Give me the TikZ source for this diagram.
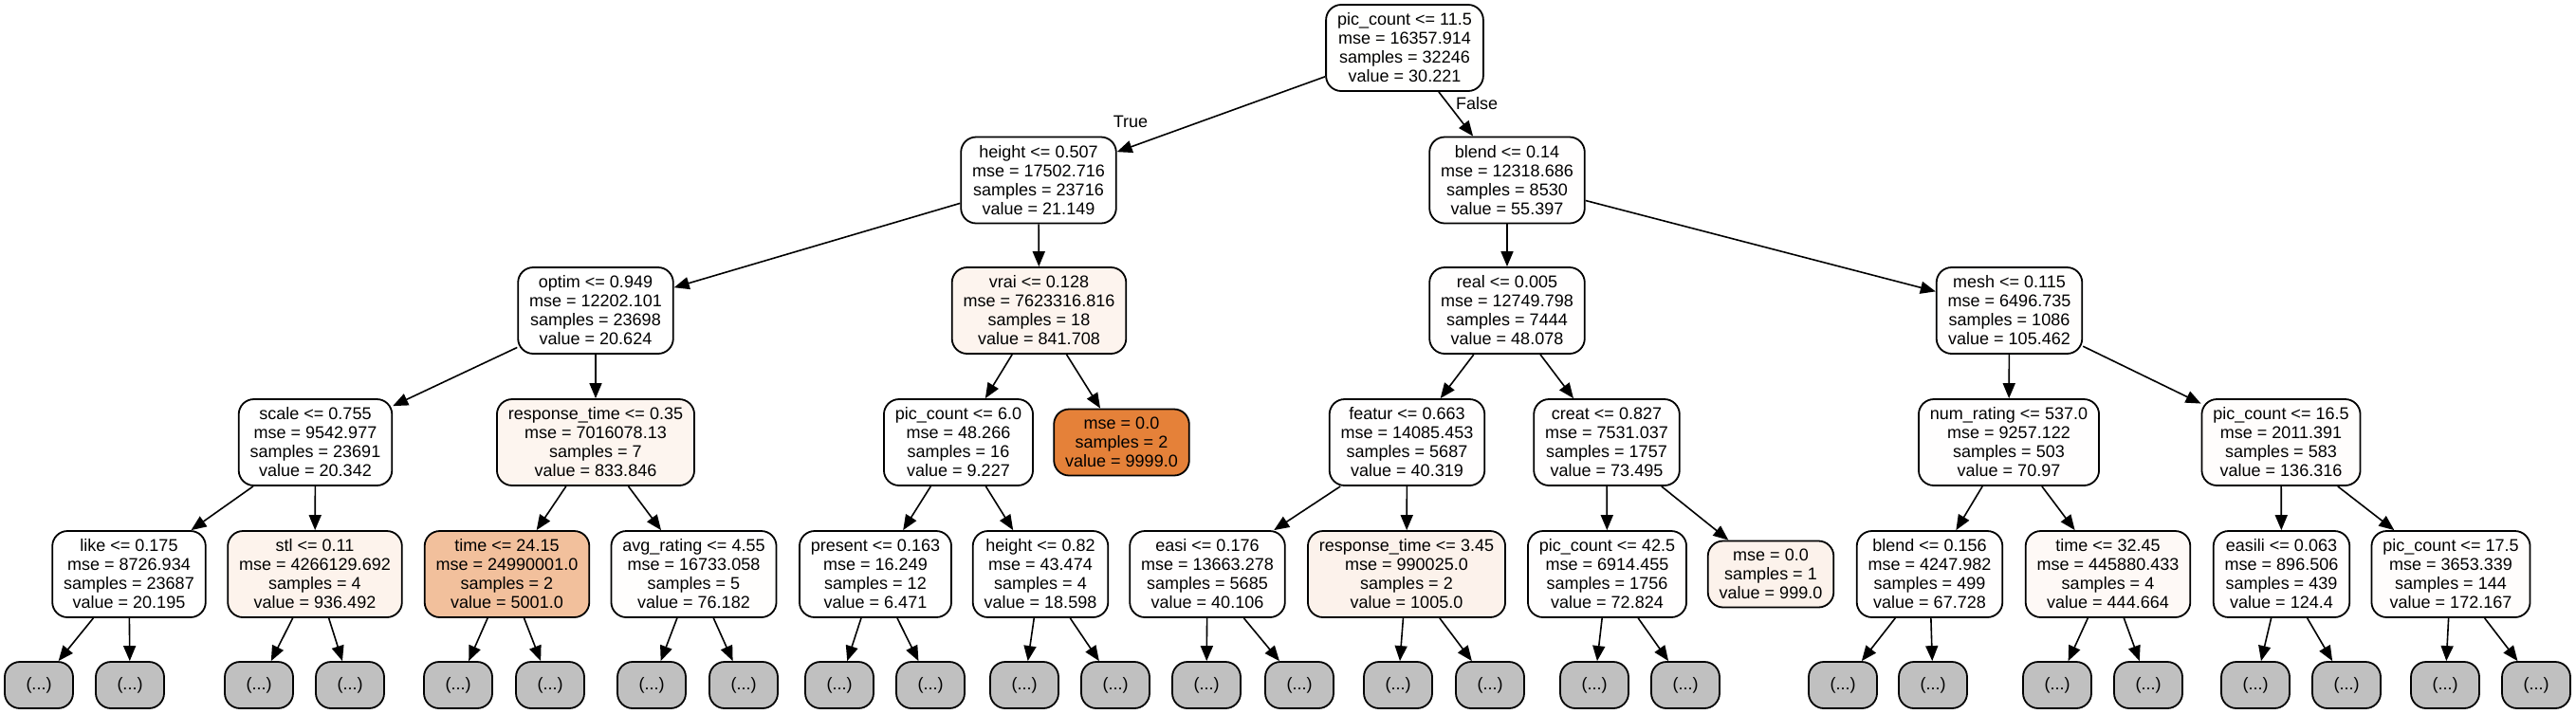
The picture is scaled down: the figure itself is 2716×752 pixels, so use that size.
\documentclass[tikz,border=0pt]{standalone}
\usepackage{fontspec}
\setmainfont{Liberation Sans}
\usetikzlibrary{arrows.meta}
\definecolor{dto}{RGB}{229,129,57}
\definecolor{dotgray}{RGB}{192,192,192}
\tikzset{
  tn/.style={draw=black, rounded corners=8pt, line width=0.9pt, align=center,
    font=\fontsize{9}{10}\selectfont, inner xsep=6pt, inner ysep=2pt, minimum height=45.5pt},
  leafthree/.style={tn, minimum height=35pt},
  dotbox/.style={tn, fill=dotgray, minimum width=36pt, minimum height=24.5pt},
  edgearrow/.style={-{Triangle[length=8pt,width=6.5pt]}, line width=0.8pt},
  elabel/.style={font=\fontsize{9}{10}\selectfont, inner sep=0pt}
}
\begin{document}
\begin{tikzpicture}[x=0.5pt,y=-0.5pt]
\useasboundingbox (0,0) rectangle (2716,752);
% level 0
\node[tn, fill=dto!0.3] (n0) at (1481,50.5) {pic\_count <= 11.5\\mse = 16357.914\\samples = 32246\\value = 30.221};
% level 1
\node[tn, fill=dto!0.2] (n1) at (1095,190) {height <= 0.507\\mse = 17502.716\\samples = 23716\\value = 21.149};
\node[tn, fill=dto!0.55] (n2) at (1589,190) {blend <= 0.14\\mse = 12318.686\\samples = 8530\\value = 55.397};
% level 2
\node[tn, fill=dto!0.2] (n3) at (628,327.5) {optim <= 0.949\\mse = 12202.101\\samples = 23698\\value = 20.624};
\node[tn, fill=dto!8.4] (n4) at (1095.5,327.5) {vrai <= 0.128\\mse = 7623316.816\\samples = 18\\value = 841.708};
\node[tn, fill=dto!0.48] (n5) at (1589,327.5) {real <= 0.005\\mse = 12749.798\\samples = 7444\\value = 48.078};
\node[tn, fill=dto!1.05] (n6) at (2118.5,327.5) {mesh <= 0.115\\mse = 6496.735\\samples = 1086\\value = 105.462};
% level 3
\node[tn, fill=dto!0.2] (n7) at (332.5,466.5) {scale <= 0.755\\mse = 9542.977\\samples = 23691\\value = 20.342};
\node[tn, fill=dto!8.3] (n8) at (628,466.5) {response\_time <= 0.35\\mse = 7016078.13\\samples = 7\\value = 833.846};
\node[tn, fill=dto!0.09] (n9) at (1010.5,466.5) {pic\_count <= 6.0\\mse = 48.266\\samples = 16\\value = 9.227};
\node[leafthree, fill=dto] (n10) at (1182.5,466.5) {mse = 0.0\\samples = 2\\value = 9999.0};
\node[tn, fill=dto!0.4] (n11) at (1483.5,466.5) {featur <= 0.663\\mse = 14085.453\\samples = 5687\\value = 40.319};
\node[tn, fill=dto!0.73] (n12) at (1694,466.5) {creat <= 0.827\\mse = 7531.037\\samples = 1757\\value = 73.495};
\node[tn, fill=dto!0.71] (n13) at (2118,466.5) {num\_rating <= 537.0\\mse = 9257.122\\samples = 503\\value = 70.97};
\node[tn, fill=dto!1.36] (n14) at (2405,466.5) {pic\_count <= 16.5\\mse = 2011.391\\samples = 583\\value = 136.316};
% level 4
\node[tn, fill=dto!0.2] (n15) at (136,605.5) {like <= 0.175\\mse = 8726.934\\samples = 23687\\value = 20.195};
\node[tn, fill=dto!9.4] (n16) at (332,605.5) {stl <= 0.11\\mse = 4266129.692\\samples = 4\\value = 936.492};
\node[tn, fill=dto!50] (n17) at (534.5,605.5) {time <= 24.15\\mse = 24990001.0\\samples = 2\\value = 5001.0};
\node[tn, fill=dto!0.76] (n18) at (731.5,605.5) {avg\_rating <= 4.55\\mse = 16733.058\\samples = 5\\value = 76.182};
\node[tn, fill=white] (n19) at (923,605.5) {present <= 0.163\\mse = 16.249\\samples = 12\\value = 6.471};
\node[tn, fill=dto!0.19] (n20) at (1097,605.5) {height <= 0.82\\mse = 43.474\\samples = 4\\value = 18.598};
\node[tn, fill=dto!0.4] (n21) at (1273,605.5) {easi <= 0.176\\mse = 13663.278\\samples = 5685\\value = 40.106};
\node[tn, fill=dto!10] (n22) at (1483,605.5) {response\_time <= 3.45\\mse = 990025.0\\samples = 2\\value = 1005.0};
\node[tn, fill=dto!0.73] (n23) at (1694.5,605.5) {pic\_count <= 42.5\\mse = 6914.455\\samples = 1756\\value = 72.824};
\node[leafthree, fill=dto!10] (n24) at (1867,605.5) {mse = 0.0\\samples = 1\\value = 999.0};
\node[tn, fill=dto!0.68] (n25) at (2034.5,605.5) {blend <= 0.156\\mse = 4247.982\\samples = 499\\value = 67.728};
\node[tn, fill=dto!4.4] (n26) at (2222.5,605.5) {time <= 32.45\\mse = 445880.433\\samples = 4\\value = 444.664};
\node[tn, fill=dto!1.24] (n27) at (2405.5,605.5) {easili <= 0.063\\mse = 896.506\\samples = 439\\value = 124.4};
\node[tn, fill=dto!1.72] (n28) at (2584,605.5) {pic\_count <= 17.5\\mse = 3653.339\\samples = 144\\value = 172.167};
% level 5
\node[dotbox] (d1) at (41,722.5) {(...)};
\node[dotbox] (d2) at (137,722.5) {(...)};
\node[dotbox] (d3) at (273,722.5) {(...)};
\node[dotbox] (d4) at (369,722.5) {(...)};
\node[dotbox] (d5) at (483,722.5) {(...)};
\node[dotbox] (d6) at (580,722.5) {(...)};
\node[dotbox] (d7) at (687,722.5) {(...)};
\node[dotbox] (d8) at (784,722.5) {(...)};
\node[dotbox] (d9) at (885,722.5) {(...)};
\node[dotbox] (d10) at (981,722.5) {(...)};
\node[dotbox] (d11) at (1080,722.5) {(...)};
\node[dotbox] (d12) at (1176,722.5) {(...)};
\node[dotbox] (d13) at (1272,722.5) {(...)};
\node[dotbox] (d14) at (1370,722.5) {(...)};
\node[dotbox] (d15) at (1474,722.5) {(...)};
\node[dotbox] (d16) at (1571,722.5) {(...)};
\node[dotbox] (d17) at (1681,722.5) {(...)};
\node[dotbox] (d18) at (1777,722.5) {(...)};
\node[dotbox] (d19) at (1943,722.5) {(...)};
\node[dotbox] (d20) at (2038,722.5) {(...)};
\node[dotbox] (d21) at (2169,722.5) {(...)};
\node[dotbox] (d22) at (2265,722.5) {(...)};
\node[dotbox] (d23) at (2378,722.5) {(...)};
\node[dotbox] (d24) at (2474,722.5) {(...)};
\node[dotbox] (d25) at (2578,722.5) {(...)};
\node[dotbox] (d26) at (2674,722.5) {(...)};
% edge labels
\node[elabel] (lt) at (1192,128) {True};
\node[elabel] (lf) at (1557,109) {False};
% edges
\foreach \a/\b in {n0/n1,n0/n2,n1/n3,n1/n4,n2/n5,n2/n6,
  n3/n7,n3/n8,n4/n9,n4/n10,n5/n11,n5/n12,n6/n13,n6/n14,
  n7/n15,n7/n16,n8/n17,n8/n18,n9/n19,n9/n20,n11/n21,n11/n22,
  n12/n23,n12/n24,n13/n25,n13/n26,n14/n27,n14/n28,
  n15/d1,n15/d2,n16/d3,n16/d4,n17/d5,n17/d6,n18/d7,n18/d8,
  n19/d9,n19/d10,n20/d11,n20/d12,n21/d13,n21/d14,n22/d15,n22/d16,
  n23/d17,n23/d18,n25/d19,n25/d20,n26/d21,n26/d22,n27/d23,n27/d24,
  n28/d25,n28/d26}
  \draw[edgearrow] (\a) -- (\b);
\end{tikzpicture}
\end{document}
